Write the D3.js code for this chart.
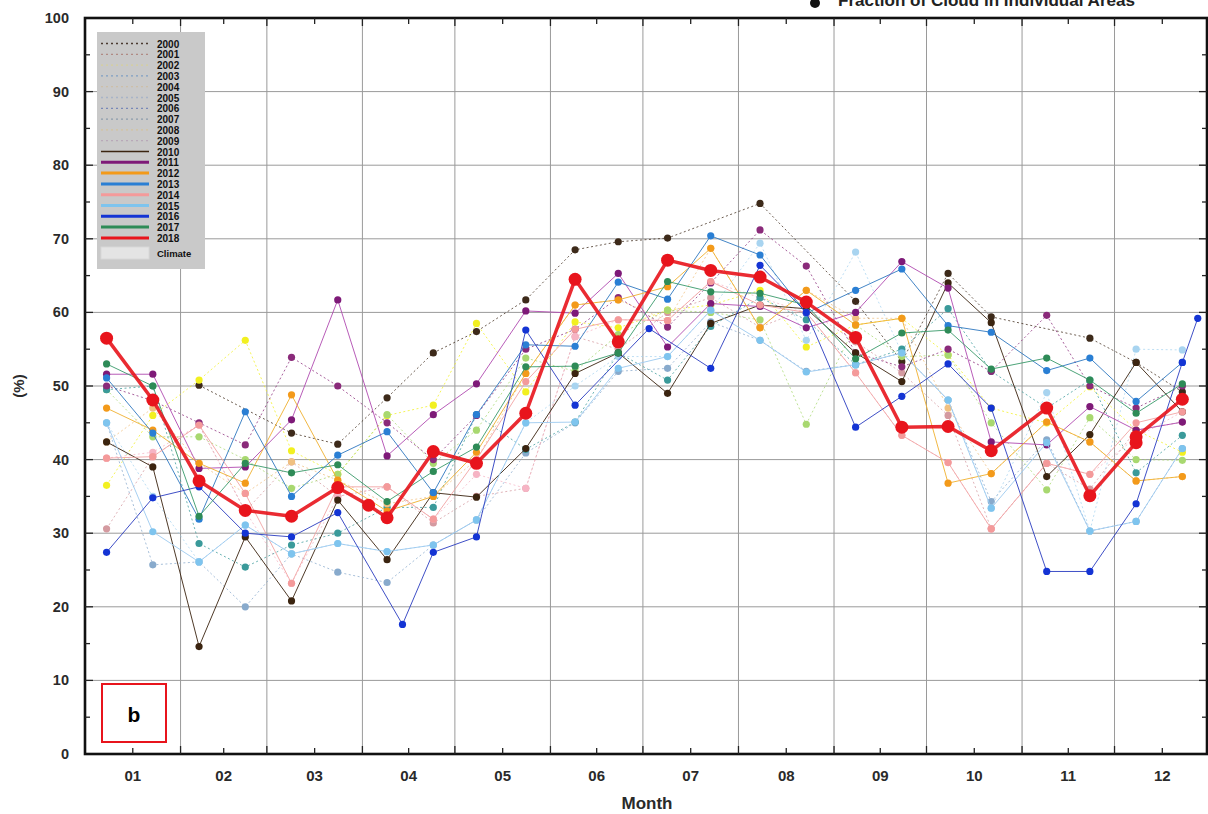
<!DOCTYPE html>
<html><head><meta charset="utf-8">
<script src="https://cdn.jsdelivr.net/npm/d3@7"></script>
<style>body{margin:0;background:#fff}svg{display:block;font-family:"Liberation Sans",Arial,sans-serif}</style>
</head><body><svg id="c" width="1208" height="814"></svg>
<script>
// ---------- data ----------
const monthLabels = ["01","02","03","04","05","06","07","08","09","10","11","12"];
const monthStarts = [0,31,59,90,120,151,181,212,243,273,304,334,365];
const yTicks = [0,10,20,30,40,50,60,70,80,90,100];
const years = [2000,2001,2002,2003,2004,2005,2006,2007,2008,2009,2010,2011,2012,2013,2014,2015,2016,2017,2018];
// observation day-of-year (shared by most years)
const days = [7,22,37,52,67,82,98,113,127,143,159,173,189,203,219,234,250,265,280,294,312,326,341,356];
const days2016 = [7,22,37,52,67,82,103,113,127,143,159,183,203,219,234,250,265,280,294,312,326,341,356,361];
const days2018 = [7,22,37,52,67,82,92,98,113,127,143,159,173,189,203,219,234,250,265,280,294,312,326,341,341,356];

const y2000 = [null,null,50.1,null,43.6,42.1,48.4,54.5,57.4,61.7,68.5,69.6,70.1,null,74.8,null,61.5,53.3,65.3,59.4,null,56.5,53.2,49.2];
const y2001 = [30.6,40.4,44.7,33,39.7,35,36.3,31.4,35,36.1,56.7,55,60,62,58,60.5,56,51.8,46,30.6,39.5,36,44,45.1];
const y2002 = [36.5,46,50.8,56.2,41.2,38,46,47.4,58.5,49.2,58.7,57.9,60.3,61,63,55.3,58.3,59.2,54.2,47,45,49.9,44,41];
const y2003 = [45,25.7,26.1,20,27.2,24.7,23.3,28.4,31.8,40.9,45,52,52.4,58.7,56.2,52,52.9,54.5,48.1,34.3,42.7,30.3,31.6,41.5];
const y2004 = [49.5,43.1,43.1,40,36.1,38,46.1,39.5,44,53.8,52,57,60.3,60,59,44.8,58.3,54,54.2,45,35.9,45.7,40,39.9];
const y2005 = [40.2,41,44.7,33,23.2,35,36.3,31.9,38,36.1,56.7,59,58.9,64.2,62,60,51.8,43.3,39.6,30.6,39.5,38,43,46.5];
const y2006 = [45,35,26.1,31.1,27.2,28.6,27.5,28.4,31.8,45,50,54,54,60.3,69.4,56.2,68.2,54.5,48.1,33.4,49.1,30.3,55,54.9];
const y2007 = [49.5,50,28.6,25.4,28.4,30,33.5,33.5,46.1,41.4,45.1,54.5,50.8,58.1,62,59,52.9,55,60.5,52,47,50.8,38.2,43.3];
const y2008 = [42.4,47,39.5,35.4,39.7,37.2,34,35,40,51.7,61,61.7,58.9,68.7,57.9,63,59.2,59.2,47,38.1,45.1,42.4,37.1,37.7];
const y2009 = [50,48,45,42,53.9,50,45,40,46,55,57.7,62,58,64,71.2,66.3,54.5,52.6,55,52,59.6,50,47,50];
const y2010 = [42.4,39,14.6,29.5,20.8,34.5,26.4,35.5,34.9,41.5,51.7,54.5,49,58.5,61,60.5,54.5,50.6,64,58.6,37.7,43.4,53.2,46.5];
const y2011 = [51.6,51.6,38.8,39,45.4,61.7,40.5,46.1,50.3,60.2,59.9,65.3,55.3,61.2,60.8,57.9,60,66.9,63.3,42.4,42,47.2,44,45.1];
const y2012 = [47,44,39.5,36.8,48.8,37.2,33,35,41,51.7,61,61.7,63.5,68.7,57.9,63,58.3,59.2,36.8,38.1,45.1,42.4,37.1,37.7];
const y2013 = [51.1,43.6,31.9,46.5,35,40.6,43.8,35.5,46.1,55.6,55.4,64.1,61.8,70.4,67.8,59.9,63,65.9,58.2,57.3,52.1,53.8,47.9,53.2];
const y2014 = [40.2,40.4,44.7,35.4,23.2,36.3,36.3,31.9,40,50.6,57.7,59,58.9,64.2,61,60,51.8,43.3,39.6,30.6,39.5,38,45,46.5];
const y2015 = [45,30.2,26.1,31.1,27.2,28.6,27.5,28.4,31.8,45,45.1,52.4,54,60.3,56.2,51.9,52.9,54.5,48.1,33.4,42.3,30.3,31.6,41.5];
const y2016 = [27.4,34.8,36.3,30,29.5,32.8,17.6,27.4,29.5,57.6,47.4,57.8,52.4,66.4,60,44.4,48.6,53,47,24.8,24.8,34,53.2,59.2];
const y2017 = [53,50,32.3,39.5,38.2,39.3,34.3,38.4,41.7,52.6,52.7,54.5,64.2,62.8,62.6,61,53.7,57.2,57.6,52.3,53.8,50.8,46.3,50.3];
const y2018 = [56.5,48.1,37.1,33.1,32.3,36.2,33.8,32.1,41.1,39.5,46.3,64.5,56,67.1,65.7,64.8,61.4,56.6,44.4,44.5,41.2,47,35.1,42.3,43.1,48.2];

const lineColors = ["#4a3a30","#b08a84","#d6cf9a","#7f9fc4","#cdbfa8","#a8b4c8","#7888b8","#8c9cac","#d4c29c","#b8a8b8",
                    "#3b2410","#b04ab0","#f0b030","#2f78c0","#f2a4a4","#9ccaf0","#2a3cc0","#3a9a6a","#e8141c"];
const markColors = ["#3d2a1a","#d49aa0","#f2f020","#88aacc","#a8d870","#f6b4c4","#a8d4f0","#3a9a9a","#f0c080","#8a2a7a",
                    "#3b2410","#7e1a78","#f39a1a","#2a7fd4","#f49a9a","#7ec4ee","#1434d4","#2e8b57","#e8141c"];
const seriesValues = [y2000,y2001,y2002,y2003,y2004,y2005,y2006,y2007,y2008,y2009,y2010,y2011,y2012,y2013,y2014,y2015,y2016,y2017,y2018];
const seriesDays = years.map(y => y === 2016 ? days2016 : y === 2018 ? days2018 : days);

// ---------- chart ----------
const svg = d3.select("#c");
const L = 85, R = 1207, T = 18, B = 754;
const x = d3.scaleLinear().domain([0, 364]).range([L, R]);
const y = d3.scaleLinear().domain([0, 100]).range([B, T]);

// title (partly cut off at top, as in the reference)
svg.append("circle").attr("cx", 815).attr("cy", 3).attr("r", 5).attr("fill", "#111");
svg.append("text").attr("x", 838).attr("y", 6).attr("font-size", 16).attr("font-weight", "bold")
  .attr("fill", "#222").attr("textLength", 297).attr("lengthAdjust", "spacingAndGlyphs")
  .text("Fraction of Cloud in Individual Areas");

// grid
const g = svg.append("g");
g.selectAll(".hg").data(yTicks.slice(1, -1)).join("line")
  .attr("x1", L).attr("x2", R).attr("y1", d => y(d)).attr("y2", d => y(d))
  .attr("stroke", "#9a9a9a").attr("stroke-width", 1);
g.selectAll(".vg").data(monthStarts.slice(1, -1)).join("line")
  .attr("y1", T).attr("y2", B).attr("x1", d => x(d)).attr("x2", d => x(d))
  .attr("stroke", "#9a9a9a").attr("stroke-width", 1);

// clip
svg.append("clipPath").attr("id", "clip").append("rect").attr("x", L).attr("y", T).attr("width", R - L).attr("height", B - T);
const plot = svg.append("g").attr("clip-path", "url(#clip)");

const line = d3.line().x(d => x(d[0])).y(d => y(d[1]));
years.forEach((yr, i) => {
  const pts = seriesValues[i].map((v, j) => [seriesDays[i][j], v]).filter(d => d[1] != null);
  const is18 = yr === 2018, dotted = yr < 2010;
  plot.append("path").datum(pts).attr("d", line).attr("fill", "none")
    .attr("stroke", dotted ? markColors[i] : lineColors[i])
    .attr("stroke-opacity", dotted ? 0.75 : 0.9)
    .attr("stroke-width", is18 ? 3.5 : 1)
    .attr("stroke-dasharray", dotted ? "2,2.5" : null)
    .attr("stroke-linejoin", "round");
  plot.selectAll(null).data(pts).join("circle")
    .attr("cx", d => x(d[0])).attr("cy", d => y(d[1]))
    .attr("r", is18 ? 6.5 : 3.6)
    .attr("fill", markColors[i]);
});

// frame
svg.append("rect").attr("x", L).attr("y", T).attr("width", R - L).attr("height", B - T)
  .attr("fill", "none").attr("stroke", "#111").attr("stroke-width", 2.6);

// ticks
const monthMids = monthStarts.slice(0, 12).map((s, i) => (s + monthStarts[i + 1]) / 2);
const tk = svg.append("g").attr("stroke", "#222").attr("stroke-width", 1.3);
[B, T].forEach(base => {
  const dir = base === B ? -1 : 1;
  tk.selectAll(null).data(monthStarts.slice(1, -1)).join("line")
    .attr("x1", d => x(d)).attr("x2", d => x(d)).attr("y1", base).attr("y2", base + dir * 8);
  tk.selectAll(null).data(monthMids).join("line")
    .attr("x1", d => x(d)).attr("x2", d => x(d)).attr("y1", base).attr("y2", base + dir * 6);
});
const yMinor = d3.range(5, 100, 10);
[L, R].forEach(base => {
  const dir = base === L ? 1 : -1;
  tk.selectAll(null).data(yTicks.slice(1, -1)).join("line")
    .attr("y1", d => y(d)).attr("y2", d => y(d)).attr("x1", base).attr("x2", base + dir * 8);
  tk.selectAll(null).data(yMinor).join("line")
    .attr("y1", d => y(d)).attr("y2", d => y(d)).attr("x1", base).attr("x2", base + dir * 5);
});

// tick labels
svg.selectAll(".yl").data(yTicks).join("text")
  .attr("x", 69).attr("y", d => y(d) + 5).attr("text-anchor", "end")
  .attr("font-size", 14.5).attr("font-weight", "bold").attr("fill", "#2a2a2a").text(d => d);
svg.selectAll(".xl").data(monthLabels).join("text")
  .attr("x", (d, i) => x(monthMids[i])).attr("y", 781).attr("text-anchor", "middle")
  .attr("font-size", 15).attr("font-weight", "bold").attr("fill", "#2a2a2a").text(d => d);
svg.append("text").attr("x", 647).attr("y", 809).attr("text-anchor", "middle")
  .attr("font-size", 17).attr("font-weight", "bold").attr("fill", "#2a2a2a").text("Month");
svg.append("text").attr("transform", "translate(24,386) rotate(-90)").attr("text-anchor", "middle")
  .attr("font-size", 15).attr("font-weight", "bold").attr("fill", "#2a2a2a").text("(%)");

// legend
const lg = svg.append("g");
lg.append("rect").attr("x", 97).attr("y", 32).attr("width", 108).attr("height", 237).attr("fill", "#c9c9c9");
const ly = i => 43.5 + i * 10.8;
years.forEach((yr, i) => {
  const dotted = yr < 2010;
  lg.append("line").attr("x1", 101).attr("x2", 149).attr("y1", ly(i)).attr("y2", ly(i))
    .attr("stroke", dotted ? lineColors[i] : (yr === 2010 ? lineColors[i] : markColors[i]))
    .attr("stroke-width", dotted ? 1.3 : (yr === 2010 ? 1.3 : 3))
    .attr("stroke-dasharray", dotted ? "2,3" : null);
  lg.append("text").attr("x", 157).attr("y", ly(i) + 4).attr("font-size", 10).attr("font-weight", "bold")
    .attr("fill", "#111").text(yr);
});
lg.append("rect").attr("x", 101).attr("y", 247).attr("width", 48).attr("height", 12)
  .attr("fill", "#e4e4e4").attr("stroke", "#d8d8d8");
lg.append("text").attr("x", 157).attr("y", 257).attr("font-size", 9.5).attr("font-weight", "bold")
  .attr("fill", "#111").text("Climate");

// panel label
svg.append("rect").attr("x", 102).attr("y", 684).attr("width", 64).attr("height", 58)
  .attr("fill", "#fff").attr("stroke", "#e8141c").attr("stroke-width", 2);
svg.append("text").attr("x", 134).attr("y", 722).attr("text-anchor", "middle").attr("font-size", 21)
  .attr("font-weight", "bold").attr("fill", "#000").text("b");
</script></body></html>
